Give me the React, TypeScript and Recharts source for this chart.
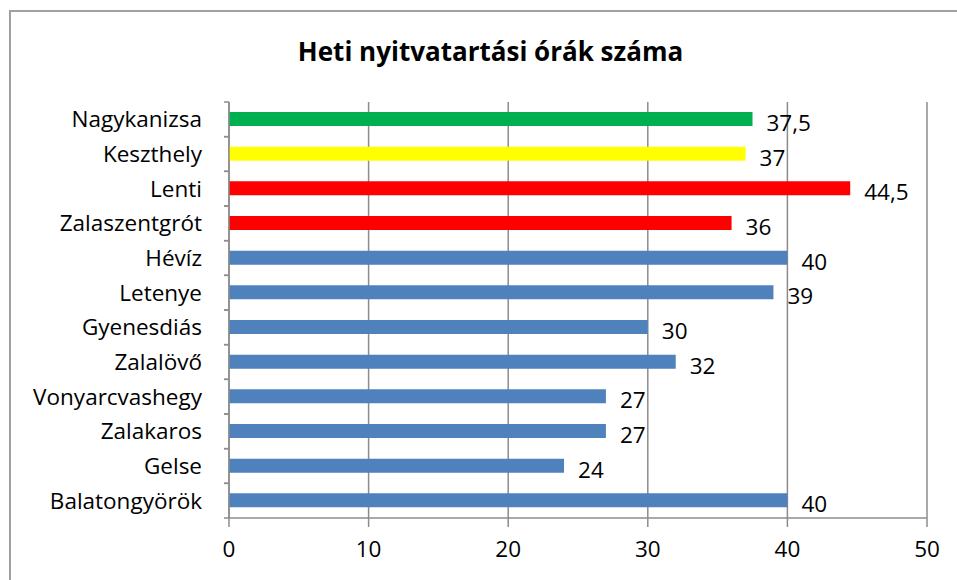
import { BarChart, Bar, XAxis, YAxis, CartesianGrid, Cell, LabelList } from 'recharts';

const towns = [
  'Nagykanizsa',
  'Keszthely',
  'Lenti',
  'Zalaszentgrót',
  'Hévíz',
  'Letenye',
  'Gyenesdiás',
  'Zalalövő',
  'Vonyarcvashegy',
  'Zalakaros',
  'Gelse',
  'Balatongyörök',
];
const hours = [37.5, 37, 44.5, 36, 40, 39, 30, 32, 27, 27, 24, 40];
const barColors = [
  '#00B050', '#FFFF00', '#FF0000', '#FF0000',
  '#4F81BD', '#4F81BD', '#4F81BD', '#4F81BD',
  '#4F81BD', '#4F81BD', '#4F81BD', '#4F81BD',
];
const xTicks = [0, 10, 20, 30, 40, 50];

const data = towns.map((name, i) => ({ name, hours: hours[i] }));

const W = 957;
const H = 580;
const TOP = 102;
const BOTTOM = 62;
const BAND = (H - TOP - BOTTOM) / towns.length;
const FONT = '"Open Sans", Lato, sans-serif';
const GRID = '#8c8c8c';
const FS = 22.5;

// category ticks in Excel sit on the band edges, the label in the middle
const CategoryTick = (props: any) => {
  const { x, y, payload } = props;
  return (
    <g>
      <line x1={x + 22} x2={x + 27} y1={y - BAND / 2} y2={y - BAND / 2} stroke={GRID} strokeWidth={1.5} />
      <line x1={x + 22} x2={x + 27} y1={y + BAND / 2} y2={y + BAND / 2} stroke={GRID} strokeWidth={1.5} />
      <text x={x} y={y} dy={8} textAnchor="end" fontSize={FS} fill="#000" fontFamily={FONT}>
        {payload.value}
      </text>
    </g>
  );
};

export default function App() {
  return (
    <div style={{ position: 'absolute', left: 0, top: 0, width: W, height: H, overflow: 'hidden', background: '#fff' }}>
      <div
        style={{
          position: 'absolute',
          left: 9,
          top: 10,
          width: W,
          height: H,
          borderLeft: '2px solid #a0a0a0',
          borderTop: '2px solid #a0a0a0',
        }}
      />
      <div
        style={{
          position: 'absolute',
          left: 0,
          width: W + 24,
          top: 34,
          lineHeight: '34px',
          textAlign: 'center',
          fontFamily: FONT,
          fontWeight: 'bold',
          fontSize: 26,
          color: '#000',
        }}
      >
        Heti nyitvatartási órák száma
      </div>
      <div style={{ position: 'absolute', left: 0, top: 0 }}>
        <BarChart
          width={W}
          height={H}
          data={data}
          layout="vertical"
          margin={{ top: TOP, right: 30, bottom: 22, left: 0 }}
          barSize={14}
        >
          <CartesianGrid horizontal={false} stroke={GRID} strokeWidth={1.5} />
          <XAxis
            type="number"
            domain={[0, 50]}
            ticks={xTicks}
            height={40}
            tickSize={9}
            tickMargin={14}
            axisLine={{ stroke: GRID, strokeWidth: 1.5 }}
            tickLine={{ stroke: GRID, strokeWidth: 1.5 }}
            tick={{ fontSize: FS, fill: '#000', fontFamily: FONT }}
          />
          <YAxis
            type="category"
            dataKey="name"
            width={229}
            tickLine={false}
            tickSize={0}
            tickMargin={27}
            axisLine={{ stroke: GRID, strokeWidth: 1.5 }}
            tick={<CategoryTick />}
            interval={0}
          />
          <Bar dataKey="hours" isAnimationActive={false}>
            {data.map((d, i) => (
              <Cell key={d.name} fill={barColors[i]} />
            ))}
            <LabelList
              dataKey="hours"
              position="right"
              offset={14}
              formatter={(v: any) => String(v).replace('.', ',')}
              style={{ fontSize: FS, fill: '#000', fontFamily: FONT }}
              dy={4}
            />
          </Bar>
        </BarChart>
      </div>
    </div>
  );
}
